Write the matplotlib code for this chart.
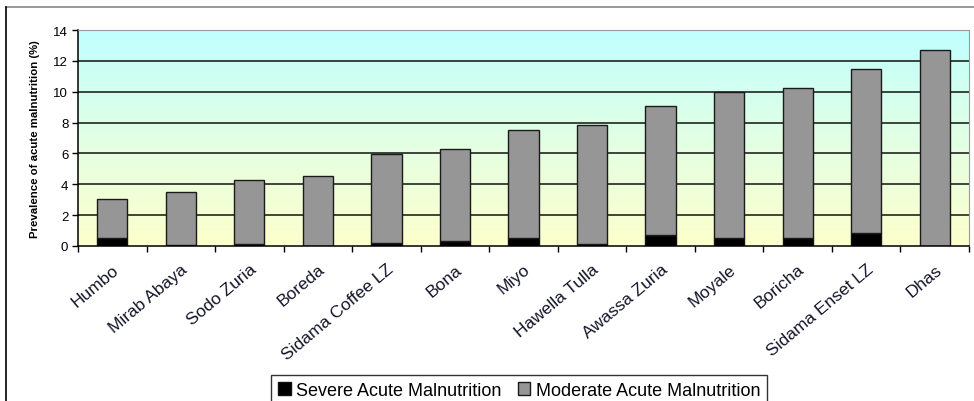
import numpy as np
import matplotlib
matplotlib.use("Agg")
import matplotlib.pyplot as plt
import matplotlib.transforms as mtransforms
from matplotlib.colors import LinearSegmentedColormap
from matplotlib.lines import Line2D

plt.rcParams["font.family"] = ["Liberation Sans", "DejaVu Sans"]

districts = ["Humbo", "Mirab Abaya", "Sodo Zuria", "Boreda", "Sidama Coffee LZ",
             "Bona", "Miyo", "Hawella Tulla", "Awassa Zuria", "Moyale", "Boricha",
             "Sidama Enset LZ", "Dhas"]
severe = [0.55, 0.05, 0.1, 0.0, 0.2, 0.35, 0.55, 0.1, 0.7, 0.55, 0.55, 0.85, 0.0]
total = [3.05, 3.5, 4.3, 4.55, 5.95, 6.3, 7.5, 7.85, 9.1, 10.0, 10.25, 11.5, 12.7]
moderate = [t - s for t, s in zip(total, severe)]

W, H = 974, 402
fig = plt.figure(figsize=(W / 100, H / 100), dpi=100)
ax = fig.add_axes([78 / W, 1 - 247 / H, (969 - 78) / W, (247 - 31) / H])

x = np.arange(len(districts))
ax.set_xlim(-0.5, len(districts) - 0.5)
ax.set_ylim(0, 14)

# background gradient: pale yellow at bottom to pale cyan at top
cmap = LinearSegmentedColormap.from_list("bg", ["#fdffcc", "#e2ffe4", "#c0ffff"])
grad = np.linspace(0, 1, 256).reshape(-1, 1)
ax.imshow(grad, extent=(-0.5, len(districts) - 0.5, 0, 14), origin="lower",
          aspect="auto", cmap=cmap, zorder=0)

for yv in range(2, 14, 2):
    ax.axhline(yv, color="#111111", lw=1.1, zorder=1)

bw = 0.44
ax.bar(x, severe, bw, color="black", edgecolor="#111111", lw=1.0, zorder=2,
       label="Severe Acute Malnutrition")
ax.bar(x, moderate, bw, bottom=severe, color="#969696", edgecolor="#1a1a1a",
       lw=1.0, zorder=2, label="Moderate Acute Malnutrition")

ax.set_yticks(range(0, 15, 2))
ax.set_yticklabels([str(v) for v in range(0, 15, 2)], fontsize=9.5)
ax.set_ylabel("Prevalence of acute malnutrition (%)", fontsize=8.2,
              fontweight="bold", labelpad=10)

ax.set_xticks(x)
ax.set_xticklabels(districts, rotation=40, ha="right", va="top",
                   rotation_mode="anchor", fontsize=12.5, color="#15152a")
shift = mtransforms.ScaledTranslation(-6 / 100, 0, fig.dpi_scale_trans)
for lab in ax.get_xticklabels():
    lab.set_transform(lab.get_transform() + shift)
ax.tick_params(axis="x", which="major", length=0, pad=11)
ax.set_xticks(np.arange(-0.5, len(districts), 1), minor=True)
ax.tick_params(axis="x", which="minor", length=4, width=1, color="black",
               direction="out")
ax.tick_params(axis="y", length=4, width=1, direction="out", pad=3)

for side in ("top", "right"):
    ax.spines[side].set_color("#999999")
for side in ("left", "bottom"):
    ax.spines[side].set_color("black")
    ax.spines[side].set_linewidth(1.1)

leg = fig.legend(loc="lower center", bbox_to_anchor=(519 / W, -0.035), ncol=2,
                 fontsize=13, frameon=True, fancybox=False, edgecolor="black",
                 handlelength=0.7, handleheight=0.7, handletextpad=0.3,
                 columnspacing=0.9, borderpad=0.4)
leg.get_frame().set_linewidth(1.0)

# outer frame of the original figure
fig.add_artist(Line2D([6 / W, 1], [1 - 8 / H, 1 - 8 / H], color="#888888", lw=1.2))
fig.add_artist(Line2D([6 / W, 6 / W], [0, 1 - 8 / H], color="black", lw=1.2))

fig.savefig("out.png", dpi=100)
